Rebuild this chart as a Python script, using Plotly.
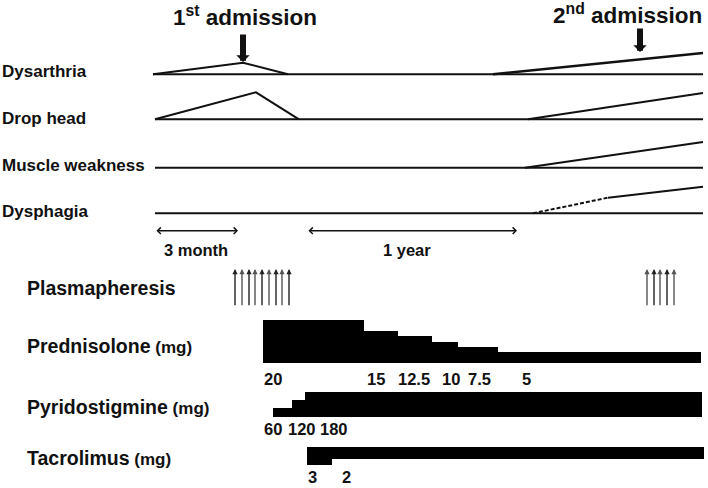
import plotly.graph_objects as go

# ------------------------------------------------------------------
# DATA  (x = position along the schematic timeline)
# ------------------------------------------------------------------
symptoms = ["Dysarthria", "Drop head", "Muscle weakness", "Dysphagia"]
symptom_start = [153, 155, 155, 155]
timeline_end = 703

# severity profiles: (timeline position, relative severity)
dysarthria_ep1_x = [153, 243, 288]
dysarthria_ep1_s = [0, 11.6, 0]
dysarthria_ep2_x = [493, 703]
dysarthria_ep2_s = [0, 21.3]
drophead_ep1_x = [155, 256, 299]
drophead_ep1_s = [0, 27.0, 0]
drophead_ep2_x = [528, 703]
drophead_ep2_s = [0, 26.3]
weakness_ep2_x = [525, 703]
weakness_ep2_s = [0, 25.7]
dysphagia_dash_x = [533, 608]
dysphagia_dash_s = [0, 15.6]
dysphagia_solid_x = [608, 703]
dysphagia_solid_s = [15.6, 26.6]

# admissions
admission_labels = ["1<sup>st</sup> admission", "2<sup>nd</sup> admission"]
admission_x = [243, 640]

# time spans
span_labels = ["3 month", "1 year"]
span_start = [155, 307]
span_end = [238, 517]

# plasmapheresis sessions
plasma_x = [235, 242, 249, 255, 262, 269, 276, 282, 289,
            647, 654, 660, 667, 674]

# prednisolone (mg)
pred_start = [263.3, 364.3, 397.7, 431.7, 458.3, 498.3]
pred_dose = [20, 15, 12.5, 10, 7.5, 5]
pred_end = 700.7
pred_labels = ["20", "15", "12.5", "10", "7.5", "5"]

# pyridostigmine (mg, cumulative daily dose)
pyr_start = [272.7, 292.3, 305.0]
pyr_dose = [60, 120, 180]
pyr_end = 702
pyr_labels = ["60", "120", "180"]

# tacrolimus (mg)
tac_start = [306.7, 331.7]
tac_dose = [3, 2]
tac_end = 704
tac_labels = ["3", "2"]

# ------------------------------------------------------------------
# LAYOUT / STYLE (pixel-like canvas coordinates, y downward)
# ------------------------------------------------------------------
W, H = 708, 488
FONT = "Liberation Sans, Arial, sans-serif"
INK = "#111111"
symptom_track_y = [74.3, 119.3, 167.7, 213.3]
symptom_label_y = [71.5, 118.0, 165.5, 211.0]
admission_text_x = [245, 627]
admission_text_y = [15.5, 13.5]
admission_arrow_top = [33, 27]
admission_arrow_tip = [62, 52]
span_y = 230.7
span_text_y = 250
span_text_x = [196, 407]
plasma_tip_y, plasma_tail_y = 269, 306.7
pred_base, pred_scale = 363.3, 2.17
pyr_base, pyr_scale = 416.7, 8.3 / 60
tac_top, tac_scale = 446.7, 6.0
pred_label_x = [262, 365, 396, 440, 466, 520]
pred_label_y = 378.5
pyr_label_x = [262, 286, 318]
pyr_label_y = 428.5
tac_label_x = [306, 340]
tac_label_y = 476.5
treat_labels = ["Plasmapheresis", "Prednisolone", "Pyridostigmine", "Tacrolimus"]
treat_units = ["", " (mg)", " (mg)", " (mg)"]
treat_label_y = [288, 346, 406.5, 457.5]

fig = go.Figure()


def profile(xs, sev, base, dash="solid", width=2.0):
    fig.add_trace(go.Scatter(
        x=xs, y=[base - s for s in sev], mode="lines",
        line=dict(color=INK, width=width, dash=dash),
        hoverinfo="skip", showlegend=False))


# baselines
for i in range(len(symptoms)):
    profile([symptom_start[i], timeline_end], [0, 0], symptom_track_y[i])

profile(dysarthria_ep1_x, dysarthria_ep1_s, symptom_track_y[0])
profile(dysarthria_ep2_x, dysarthria_ep2_s, symptom_track_y[0], width=2.6)
profile(drophead_ep1_x, drophead_ep1_s, symptom_track_y[1])
profile(drophead_ep2_x, drophead_ep2_s, symptom_track_y[1])
profile(weakness_ep2_x, weakness_ep2_s, symptom_track_y[2])
profile(dysphagia_dash_x, dysphagia_dash_s, symptom_track_y[3], dash="4px,2px")
profile(dysphagia_solid_x, dysphagia_solid_s, symptom_track_y[3])


def step_bars(starts, end, lengths, base):
    ends = starts[1:] + [end]
    fig.add_trace(go.Bar(
        x=[(a + b) / 2 for a, b in zip(starts, ends)],
        width=[b - a for a, b in zip(starts, ends)],
        y=lengths, base=base,
        marker=dict(color="black", line=dict(width=0)),
        hoverinfo="skip", showlegend=False))


# prednisolone: grows upward from its baseline
step_bars(pred_start, pred_end, [-d * pred_scale for d in pred_dose], pred_base)
# pyridostigmine: each increase extends to the end
for s, d in zip(pyr_start, pyr_dose):
    fig.add_trace(go.Bar(
        x=[(s + pyr_end) / 2], width=[pyr_end - s], y=[-d * pyr_scale], base=pyr_base,
        marker=dict(color="black", line=dict(width=0)),
        hoverinfo="skip", showlegend=False))
# tacrolimus: hangs downward from the top line
step_bars(tac_start, tac_end, [d * tac_scale for d in tac_dose], tac_top)

ann = []


def text(x, y, t, size, xanchor="left"):
    ann.append(dict(x=x, y=y, xref="x", yref="y", text=t, showarrow=False,
                    xanchor=xanchor, yanchor="middle",
                    font=dict(family=FONT, size=size, color=INK)))


for name, y in zip(symptoms, symptom_label_y):
    text(0, y, "<b>%s</b>" % name, 17)

for name, unit, y in zip(treat_labels, treat_units, treat_label_y):
    t = "<b>%s</b>" % name
    if unit:
        t += "<b><span style='font-size:17px'>%s</span></b>" % unit
    text(25, y, t, 19.5)

for lab, x, tx, ty, top, tip in zip(admission_labels, admission_x, admission_text_x,
                                    admission_text_y, admission_arrow_top,
                                    admission_arrow_tip):
    text(tx, ty, "<b>%s</b>" % lab, 22.5, xanchor="center")
    ann.append(dict(x=x, y=tip, ax=x, ay=top, xref="x", yref="y", axref="x", ayref="y",
                    text="", showarrow=True, arrowhead=1, arrowsize=0.37,
                    arrowwidth=6, arrowcolor=INK, standoff=0))

for lab, a, b, tx in zip(span_labels, span_start, span_end, span_text_x):
    ann.append(dict(x=b, y=span_y, ax=a, ay=span_y, xref="x", yref="y", axref="x",
                    ayref="y", text="", showarrow=True, arrowside="end+start",
                    arrowhead=4, startarrowhead=4, arrowsize=0.8, startarrowsize=0.8,
                    arrowwidth=1.6, arrowcolor=INK, standoff=0, startstandoff=0))
    text(tx, span_text_y, "<b>%s</b>" % lab, 16.5, xanchor="center")

for i, x in enumerate(plasma_x):
    ann.append(dict(x=x, y=plasma_tip_y, ax=x, ay=plasma_tail_y, xref="x", yref="y",
                    axref="x", ayref="y", text="", showarrow=True, arrowhead=2,
                    arrowsize=0.75, arrowwidth=1.4,
                    arrowcolor="#555555" if i % 2 else "#222222", standoff=0))

for lab, x in zip(pred_labels, pred_label_x):
    text(x, pred_label_y, "<b>%s</b>" % lab, 16.5)
for lab, x in zip(pyr_labels, pyr_label_x):
    text(x, pyr_label_y, "<b>%s</b>" % lab, 16.5)
for lab, x in zip(tac_labels, tac_label_x):
    text(x, tac_label_y, "<b>%s</b>" % lab, 16.5)

fig.update_layout(
    width=W, height=H, margin=dict(l=0, r=0, t=0, b=0),
    paper_bgcolor="white", plot_bgcolor="white",
    barmode="overlay", bargap=0, showlegend=False,
    xaxis=dict(range=[0, W], visible=False, fixedrange=True),
    yaxis=dict(range=[H, 0], visible=False, fixedrange=True),
    annotations=ann,
    font=dict(family=FONT, color=INK),
)

fig.write_html(
    "out.html",
    config={"displayModeBar": False},
    post_script="document.body.style.margin='0';document.body.style.padding='0';"
                "document.documentElement.style.overflow='hidden';",
)
